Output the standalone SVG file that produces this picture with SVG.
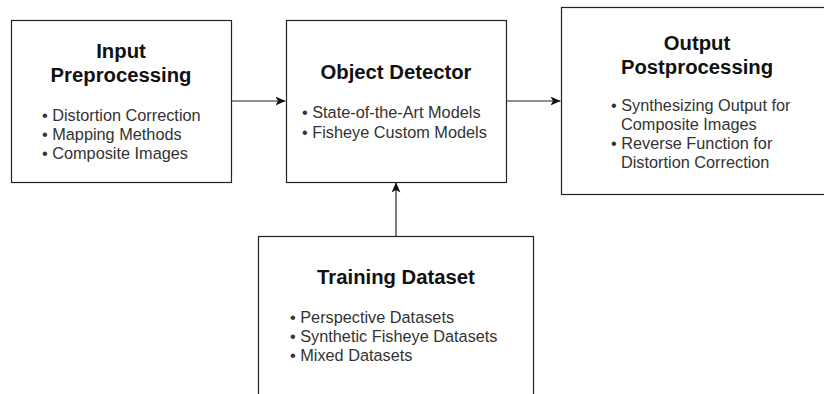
<svg xmlns="http://www.w3.org/2000/svg" width="824" height="394" viewBox="0 0 824 394">
<style>
.box{fill:#fff;stroke:#222;stroke-width:1.2}
.t{font-family:"Liberation Sans",Arial,sans-serif;font-size:20.3px;font-weight:bold;fill:#111;text-anchor:middle}
.b{font-family:"Liberation Sans",Arial,sans-serif;font-size:16.3px;fill:#333}
.c{fill:none;stroke:#222;stroke-width:1.2}
</style>
<defs>
<marker id="ah" markerWidth="11" markerHeight="10" refX="10" refY="4.5" orient="auto" markerUnits="userSpaceOnUse">
<path d="M0,0 L10,4.5 L0,9 L2.5,4.5 Z" fill="#111"/>
</marker>
</defs>
<rect width="824" height="394" fill="#fff"/>
<g id="connectors">
<line class="c" x1="231.5" y1="101" x2="285.5" y2="101" marker-end="url(#ah)"/>
<line class="c" x1="506.5" y1="101" x2="560.5" y2="101" marker-end="url(#ah)"/>
<line class="c" x1="396" y1="236" x2="396" y2="182.5" marker-end="url(#ah)"/>
</g>
<g id="input-preprocessing">
<rect class="box" x="11.5" y="20.5" width="220" height="162"/>
<text class="t" x="121" y="58">Input</text>
<text class="t" x="121" y="82">Preprocessing</text>
<text class="b" x="42" y="121">• Distortion Correction</text>
<text class="b" x="42" y="140">• Mapping Methods</text>
<text class="b" x="42" y="159">• Composite Images</text>
</g>
<g id="object-detector">
<rect class="box" x="286.5" y="20.5" width="220" height="162"/>
<text class="t" x="396" y="79">Object Detector</text>
<text class="b" x="302" y="118">• State-of-the-Art Models</text>
<text class="b" x="302" y="137.5">• Fisheye Custom Models</text>
</g>
<g id="output-postprocessing">
<rect class="box" x="561.5" y="7.5" width="272" height="187"/>
<text class="t" x="697" y="50">Output</text>
<text class="t" x="697" y="74">Postprocessing</text>
<text class="b" x="611" y="111">• Synthesizing Output for</text>
<text class="b" x="621" y="130">Composite Images</text>
<text class="b" x="611" y="149">• Reverse Function for</text>
<text class="b" x="621" y="168">Distortion Correction</text>
</g>
<g id="training-dataset">
<rect class="box" x="258.5" y="236.5" width="275" height="162"/>
<text class="t" x="396" y="284">Training Dataset</text>
<text class="b" x="290" y="323">• Perspective Datasets</text>
<text class="b" x="290" y="342">• Synthetic Fisheye Datasets</text>
<text class="b" x="290" y="361">• Mixed Datasets</text>
</g>
</svg>
